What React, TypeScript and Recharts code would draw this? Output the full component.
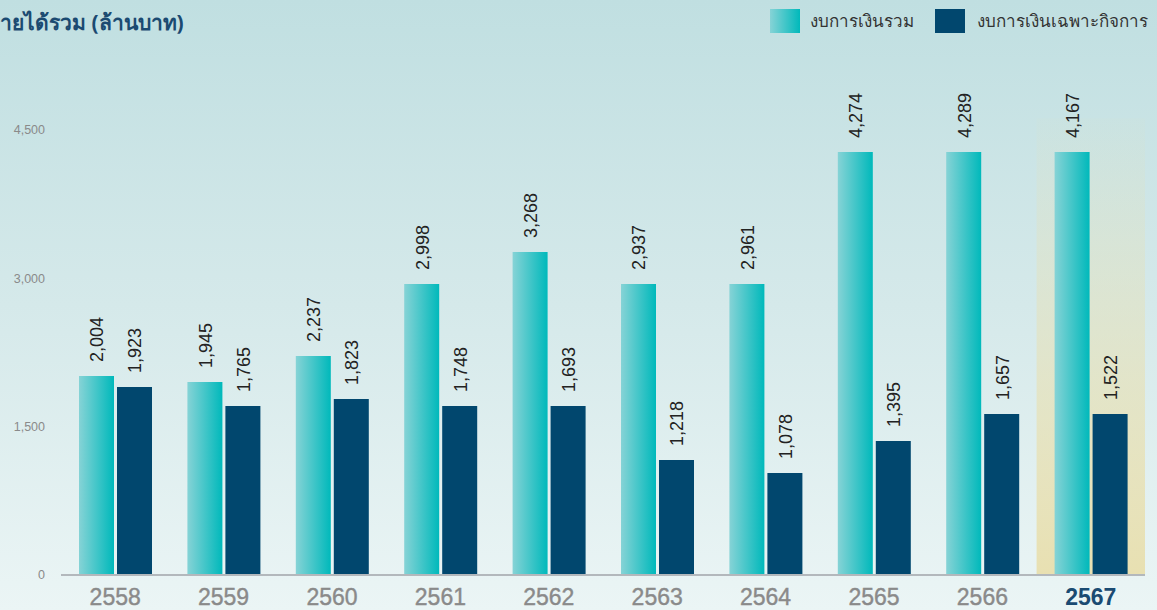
import React from 'react';
import { BarChart, Bar, XAxis, YAxis, LabelList, ReferenceArea } from 'recharts';

// years on the x axis
const years = ['2558', '2559', '2560', '2561', '2562', '2563', '2564', '2565', '2566', '2567'];

// bar heights as drawn in the reference (million baht)
const consolidated = [2012, 1951, 2214, 2942, 3266, 2942, 2942, 4277, 4277, 4277];
const separate = [1901, 1709, 1780, 1709, 1709, 1163, 1031, 1355, 1628, 1628];

// printed value labels above the bars
const consolidatedLabels = ['2,004', '1,945', '2,237', '2,998', '3,268', '2,937', '2,961', '4,274', '4,289', '4,167'];
const separateLabels = ['1,923', '1,765', '1,823', '1,748', '1,693', '1,218', '1,078', '1,395', '1,657', '1,522'];

const yTicks = [0, 1500, 3000, 4500];

const seriesNames = ['งบการเงินรวม', 'งบการเงินเฉพาะกิจการ'];
const highlightYear = '2567';

const chartData = years.map((year, i) => ({
  year,
  consolidated: consolidated[i],
  separate: separate[i],
  consolidatedLabel: consolidatedLabels[i],
  separateLabel: separateLabels[i],
}));

const digitFont = "'Liberation Sans', Arial, sans-serif";
const thaiFont = "'Noto Sans', 'DejaVu Sans', sans-serif";

const renderValueLabel = (props: any) => {
  const { x, y, width, value } = props;
  const tx = Number(x) + Number(width) / 2 + 7;
  const ty = Number(y) - 14;
  return (
    <text
      x={tx}
      y={ty}
      transform={`rotate(-90 ${tx} ${ty})`}
      textAnchor="start"
      fontSize={18}
      fontFamily={digitFont}
      fill="#222"
    >
      {value}
    </text>
  );
};

const YearTick = (props: any) => {
  const { x, y, payload } = props;
  const active = payload.value === highlightYear;
  return (
    <text
      x={x}
      y={y}
      dy={22}
      textAnchor="middle"
      fontSize={23}
      fontFamily={digitFont}
      fontWeight={active ? 700 : 400}
      fill={active ? '#1b4b72' : '#8a8a8a'}
      stroke={active ? 'none' : '#8a8a8a'}
      strokeWidth={0.4}
    >
      {payload.value}
    </text>
  );
};

export default function App() {
  return (
    <div
      style={{
        position: 'absolute',
        left: 0,
        top: 0,
        width: 1157,
        height: 610,
        overflow: 'hidden',
        background: 'linear-gradient(to bottom, #c0dfe1 0%, #d5e9ea 50%, #ebf5f5 100%)',
      }}
    >
      {/* title, cut at the left edge like the source */}
      <div
        style={{
          position: 'absolute',
          left: 0,
          top: 6,
          fontFamily: thaiFont,
          fontWeight: 700,
          fontSize: 21,
          color: '#1b4a71',
        }}
      >
        ายได้รวม (ล้านบาท)
      </div>

      {/* legend */}
      <div
        style={{
          position: 'absolute',
          left: 770,
          top: 7,
          display: 'flex',
          alignItems: 'center',
          fontFamily: thaiFont,
          fontSize: 17,
          color: '#333',
        }}
      >
        <span style={{ width: 30, height: 24, background: 'linear-gradient(to right, #86d3d6, #00b9bb)', display: 'inline-block' }} />
        <span style={{ marginLeft: 10, marginRight: 21 }}>{seriesNames[0]}</span>
        <span style={{ width: 30, height: 24, background: '#01476e', display: 'inline-block' }} />
        <span style={{ marginLeft: 12 }}>{seriesNames[1]}</span>
      </div>

      <BarChart
        width={1157}
        height={610}
        data={chartData}
        margin={{ top: 130, right: 12, bottom: 0, left: 0 }}
        barSize={35}
        barGap={3}
        style={{ position: 'absolute', left: 0, top: 0 }}
      >
        <defs>
          <linearGradient id="tealGrad" x1="0" y1="0" x2="1" y2="0">
            <stop offset="0%" stopColor="#86d3d6" />
            <stop offset="100%" stopColor="#00b9bb" />
          </linearGradient>
          <linearGradient id="hlGrad" x1="0" y1="0" x2="0" y2="1">
            <stop offset="0%" stopColor="#e8dfae" stopOpacity={0.05} />
            <stop offset="100%" stopColor="#e8dfae" stopOpacity={0.95} />
          </linearGradient>
        </defs>
        <ReferenceArea
          x1={highlightYear}
          x2={highlightYear}
          y1={0}
          y2={4620}
          fill="url(#hlGrad)"
          fillOpacity={1}
          stroke="none"
          ifOverflow="visible"
        />
        <XAxis
          dataKey="year"
          axisLine={{ stroke: '#b3b8bc', strokeWidth: 2 }}
          tickLine={false}
          tick={<YearTick />}
          interval={0}
          height={35}
        />
        <YAxis
          width={61}
          domain={[0, 4500]}
          ticks={yTicks}
          axisLine={false}
          tickLine={false}
          tickMargin={10}
          tick={{ fill: '#8a8a8a', fontSize: 12.5, fontFamily: digitFont }}
          tickFormatter={(v: number) => v.toLocaleString('en-US')}
        />
        <Bar dataKey="consolidated" name={seriesNames[0]} fill="url(#tealGrad)" isAnimationActive={false}>
          <LabelList dataKey="consolidatedLabel" content={renderValueLabel} />
        </Bar>
        <Bar dataKey="separate" name={seriesNames[1]} fill="#01476e" isAnimationActive={false}>
          <LabelList dataKey="separateLabel" content={renderValueLabel} />
        </Bar>
      </BarChart>
    </div>
  );
}
